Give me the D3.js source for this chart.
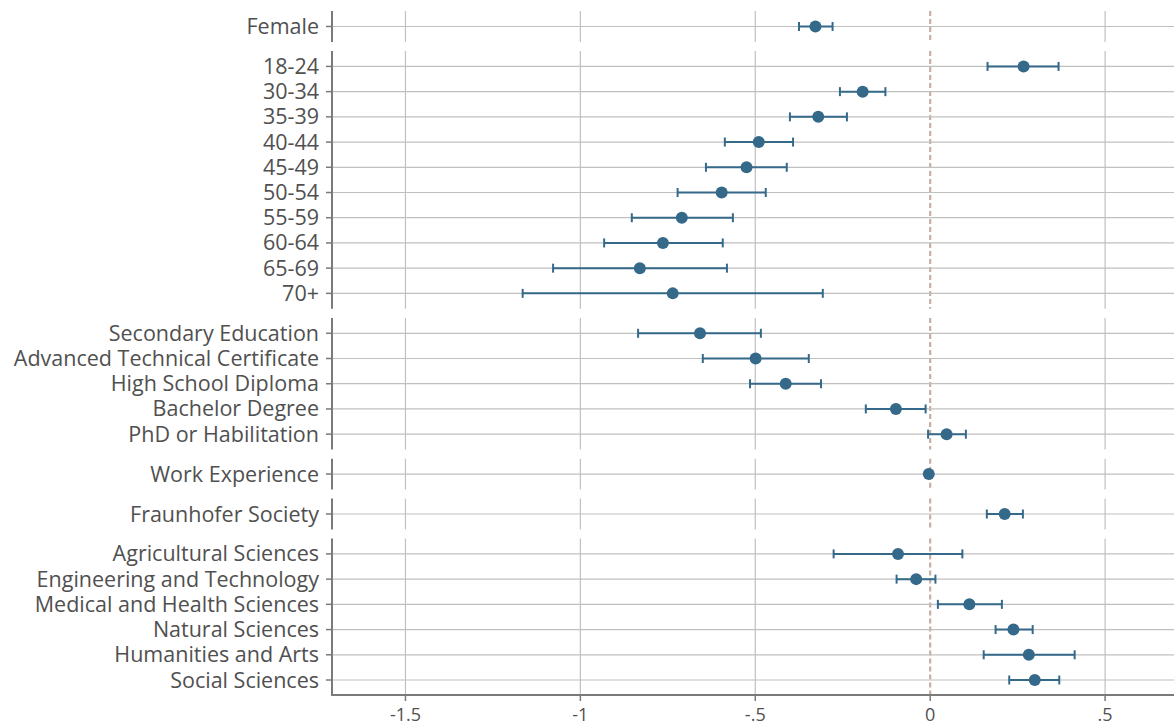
<!DOCTYPE html>
<html>
<head>
<meta charset="utf-8">
<script src="https://cdn.jsdelivr.net/npm/d3@7"></script>
<style>
  body { margin: 0; background: #fff; }
  svg { display: block; font-family: "Open Sans", sans-serif; }
</style>
</head>
<body>
<svg id="chart" width="1174" height="725"></svg>
<script>
// Data (coefficients with 95% CI), grouped as in the figure
var groups = [
  ["Female"],
  ["18-24", "30-34", "35-39", "40-44", "45-49", "50-54", "55-59", "60-64", "65-69", "70+"],
  ["Secondary Education", "Advanced Technical Certificate", "High School Diploma", "Bachelor Degree", "PhD or Habilitation"],
  ["Work Experience"],
  ["Fraunhofer Society"],
  ["Agricultural Sciences", "Engineering and Technology", "Medical and Health Sciences", "Natural Sciences", "Humanities and Arts", "Social Sciences"]
];
var estimates = [
  -0.328,
  0.267, -0.193, -0.320, -0.490, -0.525, -0.596, -0.710, -0.764, -0.830, -0.736,
  -0.658, -0.499, -0.413, -0.098, 0.047,
  -0.004,
  0.213,
  -0.092, -0.040, 0.112, 0.238, 0.282, 0.299
];
var ciLow = [
  -0.375,
  0.164, -0.258, -0.401, -0.587, -0.641, -0.722, -0.853, -0.932, -1.078, -1.165,
  -0.835, -0.650, -0.515, -0.184, -0.006,
  -0.006,
  0.162,
  -0.276, -0.096, 0.022, 0.187, 0.153, 0.226
];
var ciHigh = [
  -0.279,
  0.367, -0.128, -0.238, -0.392, -0.410, -0.470, -0.564, -0.593, -0.581, -0.307,
  -0.484, -0.347, -0.312, -0.013, 0.102,
  -0.002,
  0.265,
  0.092, 0.015, 0.205, 0.293, 0.413, 0.369
];
var xTicks = [-1.5, -1, -0.5, 0, 0.5];
var xTickLabels = ["-1.5", "-1", "-.5", "0", ".5"];

// Layout
var svg = d3.select("#chart");
var axisX = 332, rightX = 1174, axisY = 695;
var gapExtra = 0.583;
var pad = 15.4;

var markColor = "#35698a";
var gridColor = "#c0c0c0";
var axisColor = "#7a7a7a";
var textColor = "#505050";

// Build rows with positions (extra space between groups)
var rows = [];
var groupInfo = [];
var pos = 0, k = 0;
groups.forEach(function(g, gi) {
  if (gi > 0) pos += gapExtra;
  var first = pos;
  g.forEach(function(label, j) {
    rows.push({label: label, pos: pos, b: estimates[k], lo: ciLow[k], hi: ciHigh[k]});
    k++;
    if (j < g.length - 1) pos += 1;
  });
  groupInfo.push({first: first, last: pos});
  pos += 1;
});
var lastPos = rows[rows.length - 1].pos;

const x = d3.scaleLinear().domain([-1.71, 0.697]).range([axisX, rightX]);
const y = d3.scaleLinear().domain([0, lastPos]).range([26.5, 680]);

// Group panels: vertical gridlines, zero line, left axis segments
groupInfo.forEach(function(gr, gi) {
  var top = y(gr.first) - pad;
  var bottom = gi === groupInfo.length - 1 ? axisY : y(gr.last) + pad;

  svg.append("g")
    .selectAll("line")
    .data(xTicks.filter(function(d) { return d !== 0; }))
    .enter()
    .append("line")
    .attr("x1", function(d) { return x(d); })
    .attr("x2", function(d) { return x(d); })
    .attr("y1", top)
    .attr("y2", bottom)
    .attr("stroke", gridColor)
    .attr("stroke-width", 1.2);

  svg.append("line")
    .attr("x1", x(0)).attr("x2", x(0))
    .attr("y1", top).attr("y2", bottom)
    .attr("stroke", "#c4b0a5")
    .attr("stroke-width", 2.2)
    .attr("stroke-dasharray", "5,3");

  svg.append("line")
    .attr("x1", axisX).attr("x2", axisX)
    .attr("y1", top).attr("y2", bottom + (gi === groupInfo.length - 1 ? 1 : 0))
    .attr("stroke", axisColor)
    .attr("stroke-width", 2);
});

// Horizontal gridlines, ticks and labels for each row
var rowG = svg.append("g");
rowG.selectAll(".hgrid")
  .data(rows)
  .enter()
  .append("line")
  .attr("x1", axisX + 1)
  .attr("x2", rightX)
  .attr("y1", function(d) { return y(d.pos); })
  .attr("y2", function(d) { return y(d.pos); })
  .attr("stroke", gridColor)
  .attr("stroke-width", 1.2);

rowG.selectAll(".ytick")
  .data(rows)
  .enter()
  .append("line")
  .attr("x1", axisX - 6)
  .attr("x2", axisX)
  .attr("y1", function(d) { return y(d.pos); })
  .attr("y2", function(d) { return y(d.pos); })
  .attr("stroke", axisColor)
  .attr("stroke-width", 1.5);

rowG.selectAll("text")
  .data(rows)
  .enter()
  .append("text")
  .attr("x", axisX - 13)
  .attr("y", function(d) { return y(d.pos); })
  .attr("dy", "0.35em")
  .attr("text-anchor", "end")
  .attr("fill", textColor)
  .style("font-size", "21.5px")
  .text(function(d) { return d.label; });

// X axis
svg.append("line")
  .attr("x1", axisX - 1).attr("x2", rightX)
  .attr("y1", axisY).attr("y2", axisY)
  .attr("stroke", axisColor)
  .attr("stroke-width", 2);

var xg = svg.append("g");
xg.selectAll("line")
  .data(xTicks)
  .enter()
  .append("line")
  .attr("x1", function(d) { return x(d); })
  .attr("x2", function(d) { return x(d); })
  .attr("y1", axisY)
  .attr("y2", axisY + 6)
  .attr("stroke", axisColor)
  .attr("stroke-width", 1.5);

xg.selectAll("text")
  .data(xTicks)
  .enter()
  .append("text")
  .attr("x", function(d) { return x(d); })
  .attr("y", 721)
  .attr("text-anchor", "middle")
  .attr("fill", textColor)
  .style("font-size", "18px")
  .text(function(d, i) { return xTickLabels[i]; });

// Confidence intervals
var ci = svg.append("g").attr("stroke", markColor).attr("stroke-width", 2);
ci.selectAll(".ci")
  .data(rows)
  .enter()
  .append("line")
  .attr("x1", function(d) { return x(d.lo); })
  .attr("x2", function(d) { return x(d.hi); })
  .attr("y1", function(d) { return y(d.pos); })
  .attr("y2", function(d) { return y(d.pos); });

["lo", "hi"].forEach(function(key) {
  ci.selectAll(".cap-" + key)
    .data(rows.filter(function(d) { return d.hi - d.lo > 0.01; }))
    .enter()
    .append("line")
    .attr("x1", function(d) { return x(d[key]); })
    .attr("x2", function(d) { return x(d[key]); })
    .attr("y1", function(d) { return y(d.pos) - 4.5; })
    .attr("y2", function(d) { return y(d.pos) + 4.5; });
});

// Point estimates
svg.append("g")
  .selectAll("circle")
  .data(rows)
  .enter()
  .append("circle")
  .attr("cx", function(d) { return x(d.b); })
  .attr("cy", function(d) { return y(d.pos); })
  .attr("r", 6)
  .attr("fill", markColor);
</script>
</body>
</html>
